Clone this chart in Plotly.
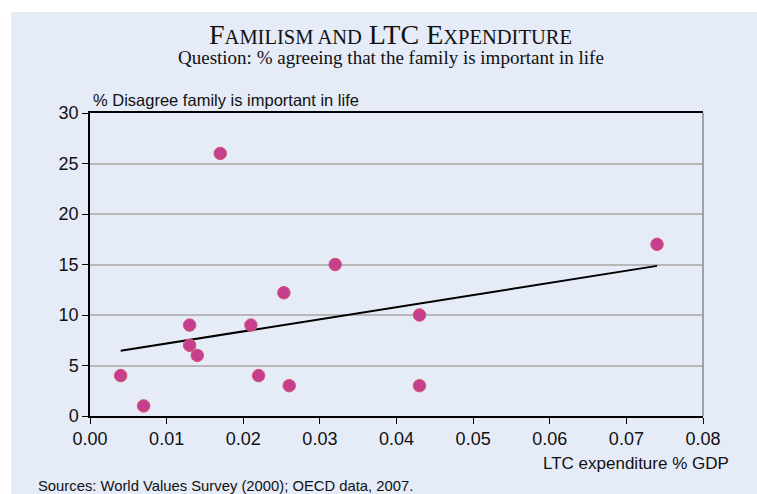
import numpy as np
import plotly.graph_objects as go

# Data
ltc_expenditure = [0.004, 0.007, 0.013, 0.013, 0.014, 0.017, 0.021, 0.022, 0.0253, 0.026, 0.032, 0.043, 0.043, 0.074]
pct_disagree = [4, 1, 9, 7, 6, 26, 9, 4, 12.2, 3, 15, 10, 3, 17]
x_ticks = [0.00, 0.01, 0.02, 0.03, 0.04, 0.05, 0.06, 0.07, 0.08]
y_ticks = [0, 5, 10, 15, 20, 25, 30]

# Linear fit (OLS) over data range
slope, intercept = np.polyfit(ltc_expenditure, pct_disagree, 1)
fit_x = [min(ltc_expenditure), max(ltc_expenditure)]
fit_y = [slope * v + intercept for v in fit_x]

W, H = 757, 494
L, R, T, B = 90, 53.5, 113, 78
pw, ph = W - L - R, H - T - B

def px_x(p):
    return (p - L) / pw

def px_y(p):
    return (H - B - p) / ph

fig = go.Figure()
fig.add_trace(go.Scatter(x=fit_x, y=fit_y, mode="lines",
                         line=dict(color="black", width=2), hoverinfo="skip"))
fig.add_trace(go.Scatter(x=ltc_expenditure, y=pct_disagree, mode="markers",
                         marker=dict(size=12.5, color="#C63F8E",
                                     line=dict(color="#D6546C", width=1))))

bg = "#E5EBF7"
fig.add_shape(type="rect", xref="paper", yref="paper", layer="below",
              x0=px_x(11), x1=px_x(W + 5), y0=px_y(H + 5), y1=px_y(12),
              fillcolor=bg, line=dict(width=0))
# right border of plot area (gray)
fig.add_shape(type="line", xref="paper", yref="paper", x0=1, x1=1, y0=0, y1=1,
              line=dict(color="#8A8A8A", width=1.5))

serif = "Liberation Serif, Times New Roman, serif"
sans = "Liberation Sans, Arial, sans-serif"

title = ("F<span style='font-size:20.5px'>AMILISM AND</span> LTC E"
         "<span style='font-size:20.5px'>XPENDITURE</span>")
fig.add_annotation(text=title, xref="paper", yref="paper", x=px_x(391), y=px_y(34),
                   xanchor="center", yanchor="middle", showarrow=False,
                   font=dict(family=serif, size=28, color="#111111"))
fig.add_annotation(text="Question: % agreeing that the family is important in life",
                   xref="paper", yref="paper", x=px_x(391), y=px_y(58),
                   xanchor="center", yanchor="middle", showarrow=False,
                   font=dict(family=serif, size=19, color="#111111"))
fig.add_annotation(text="% Disagree family is important in life",
                   xref="paper", yref="paper", x=px_x(91), y=px_y(100),
                   xanchor="left", yanchor="middle", showarrow=False,
                   font=dict(family=sans, size=16.5, color="#111111"))
fig.add_annotation(text="LTC expenditure % GDP",
                   xref="paper", yref="paper", x=px_x(732), y=px_y(463),
                   xanchor="right", yanchor="middle", showarrow=False,
                   font=dict(family=sans, size=17, color="#111111"))
fig.add_annotation(text="Sources: World Values Survey (2000); OECD data, 2007.",
                   xref="paper", yref="paper", x=px_x(36), y=px_y(486),
                   xanchor="left", yanchor="middle", showarrow=False,
                   font=dict(family=sans, size=14.8, color="#111111"))

fig.update_layout(
    width=W, height=H,
    margin=dict(l=L, r=R, t=T, b=B, pad=0),
    paper_bgcolor="white", plot_bgcolor="white",
    showlegend=False,
    font=dict(family=sans, color="#111111"),
    xaxis=dict(range=[0, 0.08], tickvals=x_ticks, tickformat=".2f",
               showgrid=False, zeroline=False,
               showline=True, linecolor="black", linewidth=1.5, mirror=True,
               ticks="outside", ticklen=6, tickcolor="black", tickwidth=1,
               tickfont=dict(family=sans, size=18)),
    yaxis=dict(range=[0, 30], tickvals=y_ticks,
               showgrid=True, gridcolor="#B8B8B8", gridwidth=1.5, zeroline=False,
               showline=True, linecolor="black", linewidth=1.5,
               ticks="outside", ticklen=6, tickcolor="black", tickwidth=1,
               tickfont=dict(family=sans, size=18)),
)

fig.write_html("out.html", config={"displayModeBar": False},
               post_script="document.body.style.margin='0';")
